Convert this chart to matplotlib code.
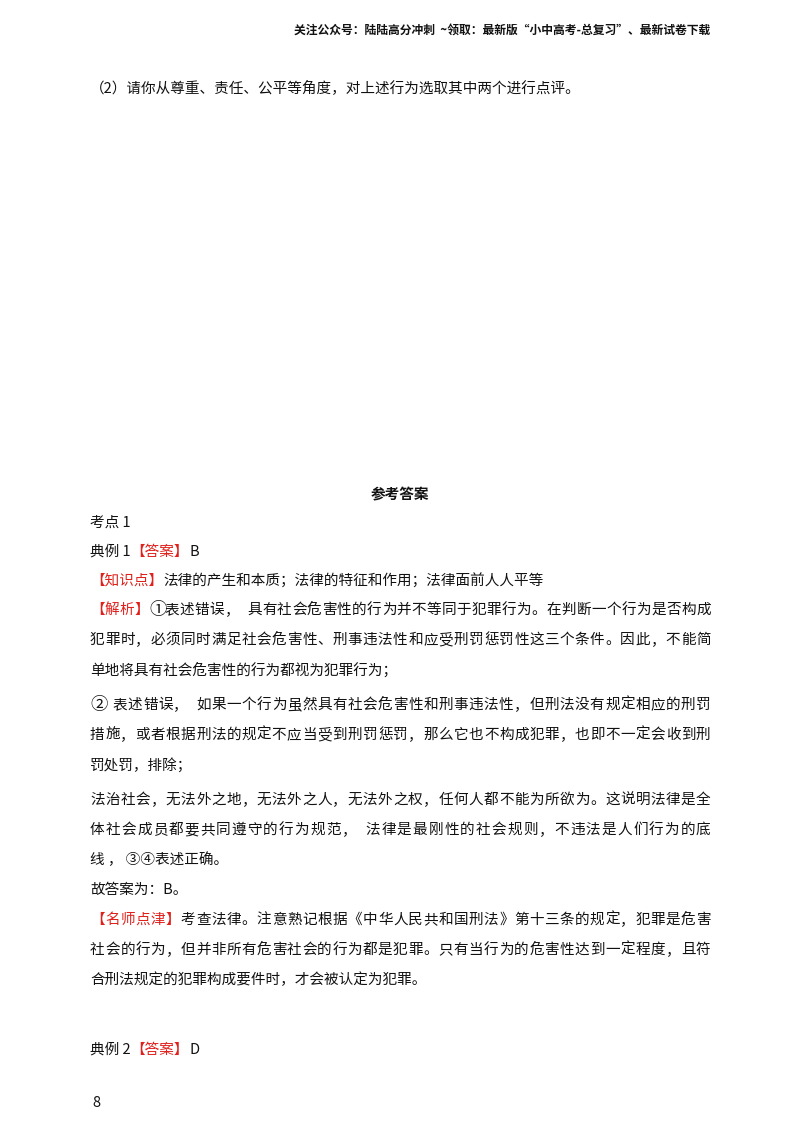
import matplotlib
matplotlib.use("Agg")
import matplotlib.pyplot as plt

plt.rcParams['font.family'] = ['Noto Sans CJK SC', 'DejaVu Sans']

W, H = 800, 1132
RED = '#e0201b'
BLK = '#111111'

header = "关注公众号：陆陆高分冲刺  ~领取：最新版“小中高考-总复习”、最新试卷下载"
question = "（2）请你从尊重、责任、公平等角度，对上述行为选取其中两个进行点评。"
title = "参考答案"

# (y, segments, justify)
body = [
    (523, [("考点 1", BLK)], False),
    (552, [("典例 1", BLK), ("【答案】", RED), ("B", BLK)], False),
    (581, [("【知识点】", RED), ("法律的产生和本质；法律的特征和作用；法律面前人人平等", BLK)], False),
    (610, [("【解析】", RED), ("①表述错误， 具有社会危害性的行为并不等同于犯罪行为。在判断一个行为是否构成", BLK)], True),
    (640, [("犯罪时，必须同时满足社会危害性、刑事违法性和应受刑罚惩罚性这三个条件。因此，不能简", BLK)], True),
    (670, [("单地将具有社会危害性的行为都视为犯罪行为；", BLK)], False),
    (705, [("② 表述错误， 如果一个行为虽然具有社会危害性和刑事违法性，但刑法没有规定相应的刑罚", BLK)], True),
    (735, [("措施，或者根据刑法的规定不应当受到刑罚惩罚，那么它也不构成犯罪，也即不一定会收到刑", BLK)], True),
    (765, [("罚处罚，排除；", BLK)], False),
    (800, [("法治社会，无法外之地，无法外之人，无法外之权，任何人都不能为所欲为。这说明法律是全", BLK)], True),
    (830, [("体社会成员都要共同遵守的行为规范， 法律是最刚性的社会规则，不违法是人们行为的底", BLK)], True),
    (860, [("线 ， ③④表述正确。", BLK)], False),
    (890, [("故答案为：B。", BLK)], False),
    (920, [("【名师点津】", RED), ("考查法律。注意熟记根据《中华人民共和国刑法》第十三条的规定，犯罪是危害", BLK)], True),
    (950, [("社会的行为，但并非所有危害社会的行为都是犯罪。只有当行为的危害性达到一定程度，且符", BLK)], True),
    (980, [("合刑法规定的犯罪构成要件时，才会被认定为犯罪。", BLK)], False),
    (1050, [("典例 2", BLK), ("【答案】", RED), ("D", BLK)], False),
]
page_no = "8"

X0, X1 = 90, 710
FS = 10.5

fig = plt.figure(figsize=(W / 100, H / 100), dpi=100)
fig.patch.set_facecolor('white')


def put(x, y, s, **kw):
    fig.text(x / W, 1 - y / H, s, va='center', **kw)


def draw_line(y, segs, justify):
    r = fig.canvas.get_renderer()
    if not justify:
        x = X0
        for s, c in segs:
            t = fig.text(x / W, 1 - y / H, s, va='center', fontsize=FS, color=c)
            x += t.get_window_extent(renderer=r).width
        return
    chars = [(ch, c) for s, c in segs for ch in s]
    # spaces take half a slot
    weights = [0.5 if ch == ' ' else 1.0 for ch, c in chars]
    total = sum(weights[:-1])
    step = (X1 - X0 - 14) / total
    x = X0
    for (ch, c), wgt in zip(chars, weights):
        if ch != ' ':
            if ch in '①②③④':
                put(x, y, ch, fontsize=FS + 2, color=c)
            else:
                put(x, y, ch, fontsize=FS, color=c)
        x += wgt * step


put(710, 30, header, fontsize=8.5, fontweight='bold', ha='right', color=BLK)
put(X0, 88, question, fontsize=FS, color=BLK)
put(400, 494, title, fontsize=FS, fontweight='bold', ha='center', color=BLK)
for y, segs, j in body:
    draw_line(y, segs, j)
put(92, 1103, page_no, fontsize=FS, color=BLK)

fig.savefig("out.png", dpi=100, facecolor='white')
